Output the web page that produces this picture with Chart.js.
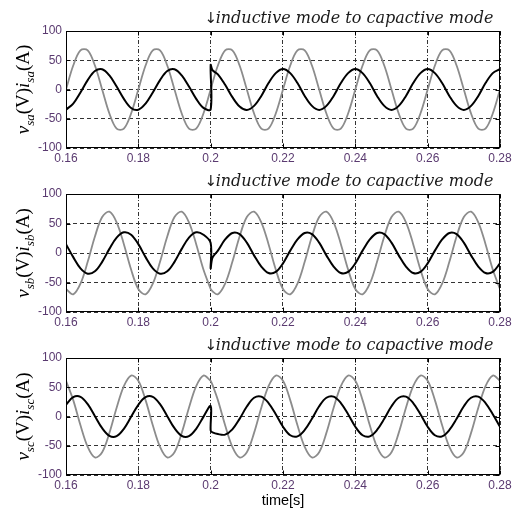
<!DOCTYPE html>
<html>
<head>
<meta charset="utf-8">
<script src="https://cdn.jsdelivr.net/npm/chart.js@4.4.0/dist/chart.umd.min.js"></script>
<style>
  body { margin: 0; background: #fff; }
  #wrap { position: relative; width: 520px; height: 510px; overflow: hidden; background: #fff; }
  canvas { position: absolute; left: 0; }
</style>
</head>
<body>
<div id="wrap">
  <canvas id="pa" width="520" height="170" style="top:0px"></canvas>
  <canvas id="pb" width="520" height="171" style="top:163px"></canvas>
  <canvas id="pc" width="520" height="183" style="top:327px"></canvas>
</div>
<script>
// time axis in seconds, the switch at 0.2 s appears twice (before / after)
const time = [
  0.160, 0.162, 0.164, 0.166, 0.168, 0.170, 0.172, 0.174, 0.176, 0.178,
  0.180, 0.182, 0.184, 0.186, 0.188, 0.190, 0.192, 0.194, 0.196, 0.198,
  0.200, 0.200, 0.2005,
  0.202, 0.204, 0.206, 0.208, 0.210, 0.212, 0.214, 0.216, 0.218, 0.220,
  0.222, 0.224, 0.226, 0.228, 0.230, 0.232, 0.234, 0.236, 0.238, 0.240,
  0.242, 0.244, 0.246, 0.248, 0.250, 0.252, 0.254, 0.256, 0.258, 0.260,
  0.262, 0.264, 0.266, 0.268, 0.270, 0.272, 0.274, 0.276, 0.278, 0.280
];

const vsa = [
  0, 41, 67, 67, 41, 0, -41, -67, -67, -41,
  0, 41, 67, 67, 41, 0, -41, -67, -67, -41,
  0, 0, 11,
  41, 67, 67, 41, 0, -41, -67, -67, -41, 0,
  41, 67, 67, 41, 0, -41, -67, -67, -41, 0,
  41, 67, 67, 41, 0, -41, -67, -67, -41, 0,
  41, 67, 67, 41, 0, -41, -67, -67, -41, 0
];
const isa = [
  -34.5, -24, -5, 16, 31.5, 34.5, 24, 5, -16, -31.5,
  -34.5, -24, -5, 16, 31.5, 34.5, 24, 5, -16, -31.5,
  -34, 42, 33,
  26, 8, -13, -29, -35, -28, -11, 11, 28, 35,
  28, 11, -11, -28, -35, -28, -11, 11, 28, 35,
  28, 11, -11, -28, -35, -28, -11, 11, 28, 35,
  28, 11, -11, -28, -35, -28, -11, 11, 28, 35
];

const vsb = [
  -61, -70, -52, -15, 28, 61, 70, 52, 15, -28,
  -61, -70, -52, -15, 28, 61, 70, 52, 15, -28,
  -61, -61, -65,
  -70, -52, -15, 28, 61, 70, 52, 15, -28, -61,
  -70, -52, -15, 28, 61, 70, 52, 15, -28, -61,
  -70, -52, -15, 28, 61, 70, 52, 15, -28, -61,
  -70, -52, -15, 28, 61, 70, 52, 15, -28, -61
];
const isb = [
  15, -7, -26, -35, -31, -15, 7, 26, 35, 31,
  15, -7, -26, -35, -31, -15, 7, 26, 35, 31,
  17, -26, -8,
  4, 23, 34, 32, 17.5, -4, -23, -34, -32, -17.5,
  4, 23, 34, 32, 17.5, -4, -23, -34, -32, -17.5,
  4, 23, 34, 32, 17.5, -4, -23, -34, -32, -17.5,
  4, 23, 34, 32, 17.5, -4, -23, -34, -32, -17.5
];

const vsc = [
  61, 28, -15, -52, -70, -61, -28, 15, 52, 70,
  61, 28, -15, -52, -70, -61, -28, 15, 52, 70,
  61, 61, 54,
  28, -15, -52, -70, -61, -28, 15, 52, 70, 61,
  28, -15, -52, -70, -61, -28, 15, 52, 70, 61,
  28, -15, -52, -70, -61, -28, 15, 52, 70, 61,
  28, -15, -52, -70, -61, -28, 15, 52, 70, 61
];
const isc = [
  20, 33, 33.5, 21, 0.6, -20, -33, -33.5, -21, -0.6,
  20, 33, 33.5, 21, 0.6, -20, -33, -33.5, -21, -0.6,
  18, -24, -27,
  -30, -31, -22, -4, 17, 32, 34, 23, 4, -17.5,
  -32, -34, -23, -4, 17.5, 32, 34, 23, 4, -17.5,
  -32, -34, -23, -4, 17.5, 32, 34, 23, 4, -17.5,
  -32, -34, -23, -4, 17.5, 32, 34, 23, 4, -17.5
];

const xTicks = [0.16, 0.18, 0.2, 0.22, 0.24, 0.26, 0.28];
const xTickLabels = ["0.16", "0.18", "0.2", "0.22", "0.24", "0.26", "0.28"];
const yTicks = [-100, -50, 0, 50, 100];
const yTickLabels = ["-100", "-50", "0", "50", "100"];
const switchTime = 0.2;
const note = "inductive mode to capactive mode";
const xTitle = "time[s]";

const tickColor = "#5a3a70";
const tickFont = { family: "'Liberation Sans', Arial", size: 12 };
const serif = "'Liberation Serif', 'Times New Roman', serif";

function drawYLabel(ctx, sub, cx, cy) {
  const parts = [
    { t: "v", f: "italic 19px " + serif, dy: 0 },
    { t: sub, f: "italic 13px " + serif, dy: 5 },
    { t: "(V)", f: "19px " + serif, dy: 0 },
    { t: "i", f: "italic 19px " + serif, dy: 0 },
    { t: sub, f: "italic 13px " + serif, dy: 5 },
    { t: "(A)", f: "19px " + serif, dy: 0 }
  ];
  let total = 0;
  for (const p of parts) { ctx.font = p.f; p.w = ctx.measureText(p.t).width; total += p.w; }
  ctx.save();
  ctx.translate(cx, cy);
  ctx.rotate(-Math.PI / 2);
  ctx.fillStyle = "#000";
  ctx.textAlign = "left";
  ctx.textBaseline = "alphabetic";
  let x = -total / 2;
  for (const p of parts) {
    ctx.font = p.f;
    ctx.fillText(p.t, x, p.dy);
    x += p.w;
  }
  ctx.restore();
}

const panelDecor = {
  id: "panelDecor",
  afterDraw(chart, args, opts) {
    const { ctx, chartArea: a } = chart;
    const xs = chart.scales.x, ys = chart.scales.y;
    const L = Math.round(a.left) + 0.5, R = Math.round(a.right) - 0.5;
    const T = Math.round(a.top) + 0.5, B = Math.round(a.bottom) - 0.5;
    ctx.save();
    ctx.strokeStyle = "#000";
    ctx.lineWidth = 1;
    ctx.strokeRect(L, T, R - L, B - T);
    ctx.beginPath();
    for (const v of xTicks) {
      const x = Math.round(xs.getPixelForValue(v)) + 0.5;
      ctx.moveTo(x, B); ctx.lineTo(x, B - 4);
      ctx.moveTo(x, T); ctx.lineTo(x, T + 4);
    }
    for (const v of yTicks) {
      const y = Math.round(ys.getPixelForValue(v)) + 0.5;
      ctx.moveTo(L, y); ctx.lineTo(L + 4, y);
      ctx.moveTo(R, y); ctx.lineTo(R - 4, y);
    }
    ctx.stroke();

    // switching note above the plot
    const sx = xs.getPixelForValue(switchTime);
    ctx.fillStyle = "#1a1a1a";
    ctx.textBaseline = "alphabetic";
    ctx.textAlign = "center";
    ctx.font = "15px 'DejaVu Sans'";
    ctx.fillText("\u2193", sx, a.top - 8);
    ctx.textAlign = "left";
    ctx.font = "italic 16px 'DejaVu Serif'";
    ctx.fillText(note, sx + 5, a.top - 8);

    drawYLabel(ctx, opts.sub, 29, (a.top + a.bottom) / 2);

    if (opts.xTitle) {
      ctx.font = "14.5px 'Liberation Sans', Arial";
      ctx.textAlign = "center";
      ctx.textBaseline = "middle";
      ctx.fillStyle = "#000";
      ctx.fillText(opts.xTitle, (a.left + a.right) / 2, a.bottom + 26);
    }
    ctx.restore();
  }
};

function makePanel(id, sub, voltage, current, bottomPad, title) {
  return new Chart(document.getElementById(id), {
    type: "line",
    data: {
      datasets: [
        { data: time.map((t, i) => ({ x: t, y: current[i] })), borderColor: "#000", borderWidth: 2, pointRadius: 0, tension: 0.35 },
        { data: time.map((t, i) => ({ x: t, y: voltage[i] })), borderColor: "#8c8c8c", borderWidth: 1.8, pointRadius: 0, tension: 0.35 }
      ]
    },
    options: {
      responsive: false,
      animation: false,
      devicePixelRatio: 1,
      layout: { padding: { top: 31, right: 20, left: 0, bottom: bottomPad } },
      plugins: {
        legend: { display: false },
        tooltip: { enabled: false },
        panelDecor: { sub: sub, xTitle: title }
      },
      scales: {
        x: {
          type: "linear", min: 0.16, max: 0.28,
          afterBuildTicks: s => { s.ticks = xTicks.map(v => ({ value: v })); },
          afterFit: s => { s.height = 22; },
          ticks: { callback: v => xTickLabels[xTicks.indexOf(v)], color: tickColor, font: tickFont, padding: 3, maxRotation: 0, autoSkip: false },
          grid: { color: "#333", lineWidth: 1, drawTicks: false },
          border: { display: false, dash: [4, 2, 1, 2] }
        },
        y: {
          min: -100, max: 100,
          afterBuildTicks: s => { s.ticks = yTicks.map(v => ({ value: v })); },
          afterFit: s => { s.width = 66; },
          ticks: { callback: v => yTickLabels[yTicks.indexOf(v)], color: tickColor, font: tickFont, padding: 4 },
          grid: { color: "#333", lineWidth: 1, drawTicks: false },
          border: { display: false, dash: [4, 3] }
        }
      }
    },
    plugins: [panelDecor]
  });
}

makePanel("pa", "sa", vsa, isa, 0, "");
makePanel("pb", "sb", vsb, isb, 0, "");
makePanel("pc", "sc", vsc, isc, 13, xTitle);
</script>
</body>
</html>
